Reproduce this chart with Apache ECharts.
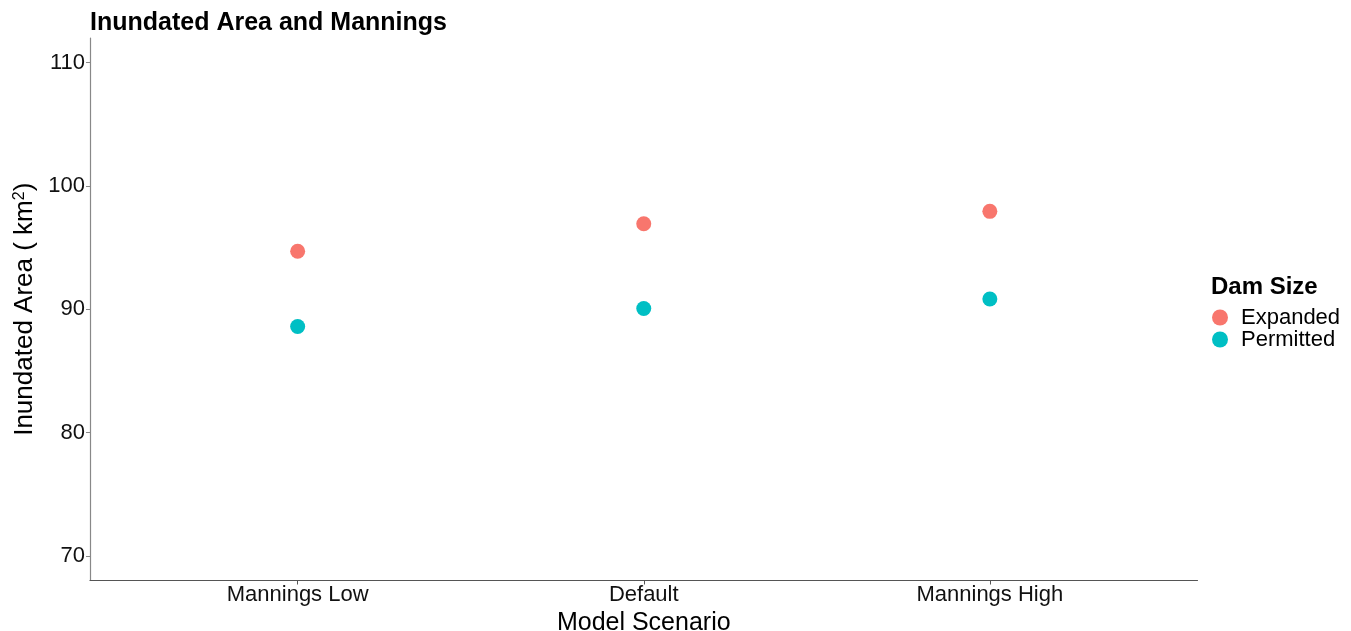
<!DOCTYPE html>
<html>
<head>
<meta charset="utf-8">
<script src="https://cdn.jsdelivr.net/npm/echarts@6/dist/echarts.min.js"></script>
<style>
html,body{margin:0;padding:0;background:#fff;}
#chart{width:1351px;height:631px;}
</style>
</head>
<body>
<div id="chart"></div>
<script>
const categories = ['Mannings Low', 'Default', 'Mannings High'];
const expanded = [94.7, 96.94, 97.94];
const permitted = [88.6, 90.06, 90.83];
const yTicks = [70, 80, 90, 100, 110];
const seriesNames = ['Expanded', 'Permitted'];

const FONT = 'Liberation Sans, Arial, sans-serif';
const chart = echarts.init(document.getElementById('chart'), null, {renderer: 'canvas'});

function toPoints(vals) { return vals.map((v, i) => [i, v]); }

chart.setOption({
  animation: false,
  backgroundColor: '#fff',
  textStyle: {fontFamily: FONT},
  title: [
    {text: 'Inundated Area and Mannings', left: 85, top: 6,
     textStyle: {fontFamily: FONT, fontSize: 25, fontWeight: 'bold', color: '#000'}},
    {text: 'Dam Size', left: 1206, top: 270,
     textStyle: {fontFamily: FONT, fontSize: 24, fontWeight: 'bold', color: '#000'}}
  ],
  legend: {
    orient: 'vertical', left: 1207, top: 301.5, itemGap: 0,
    icon: 'circle', itemWidth: 16, itemHeight: 16,
    data: seriesNames,
    textStyle: {fontFamily: FONT, fontSize: 22, lineHeight: 21, color: '#000', padding: [0, 0, 0, 8]}
  },
  grid: {left: 90, right: 153.5, top: 38, bottom: 50.5, outerBoundsMode: 'none', containLabel: false},
  xAxis: {
    type: 'value', min: -0.6, max: 2.6,
    name: 'Model Scenario', nameLocation: 'middle', nameGap: 22,
    nameTextStyle: {fontFamily: FONT, fontSize: 25, color: '#000'},
    axisLine: {show: true, onZero: false, lineStyle: {color: '#555', width: 1.2}},
    axisTick: {show: true, length: 4, customValues: [0, 1, 2], lineStyle: {color: '#555'}},
    axisLabel: {customValues: [0, 1, 2], formatter: v => categories[Math.round(v)] || '',
      fontFamily: FONT, fontSize: 22, color: '#111', margin: 3},
    splitLine: {show: false}
  },
  yAxis: {
    type: 'value', min: 68, max: 112,
    name: '{a|Inundated Area ( km}{s|2}{a|)}', nameLocation: 'middle', nameGap: 51, nameRotate: 90,
    nameTextStyle: {rich: {
      a: {fontFamily: FONT, fontSize: 26, color: '#000'},
      s: {fontFamily: FONT, fontSize: 16, color: '#000', verticalAlign: 'top', padding: [0, 0, 10, 0]}
    }},
    axisLine: {show: true, onZero: false, lineStyle: {color: '#888', width: 1.2}},
    axisTick: {show: true, length: 4, customValues: yTicks, lineStyle: {color: '#888'}},
    axisLabel: {customValues: yTicks, fontFamily: FONT, fontSize: 22, color: '#111', margin: 5},
    splitLine: {show: false}
  },
  series: [
    {name: seriesNames[0], type: 'scatter', data: toPoints(expanded), symbolSize: 15,
     itemStyle: {color: '#F8766D', opacity: 1}},
    {name: seriesNames[1], type: 'scatter', data: toPoints(permitted), symbolSize: 15,
     itemStyle: {color: '#00BFC4', opacity: 1}}
  ]
});
</script>
</body>
</html>
